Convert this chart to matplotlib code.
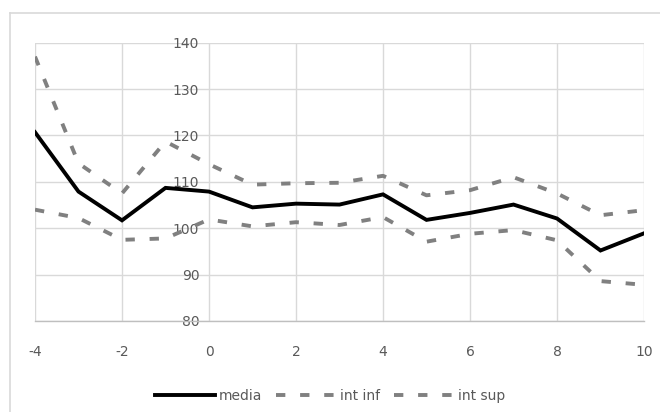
import matplotlib
matplotlib.use('Agg')
import matplotlib.pyplot as plt
from matplotlib.lines import Line2D

plt.rcParams['axes.unicode_minus'] = False

# data
x = [-4, -3, -2, -1, 0, 1, 2, 3, 4, 5, 6, 7, 8, 9, 10]
media = [120.7, 107.9, 101.7, 108.7, 107.9, 104.5, 105.3, 105.1, 107.3, 101.8, 103.3, 105.1, 102.1, 95.2, 98.9]
int_inf = [104.0, 102.2, 97.5, 97.8, 101.9, 100.4, 101.3, 100.7, 102.4, 97.1, 98.8, 99.6, 97.4, 88.6, 87.8]
int_sup = [137.0, 114.0, 107.5, 118.7, 113.8, 109.4, 109.7, 109.8, 111.3, 107.1, 108.2, 111.0, 107.5, 102.8, 103.9]

x_ticks = [-4, -2, 0, 2, 4, 6, 8, 10]
y_ticks = [80, 90, 100, 110, 120, 130, 140]

text_col = '#595959'
grid_col = '#d9d9d9'
dash_col = '#808080'

fig = plt.figure(figsize=(6.6, 4.12), dpi=100)
ax = fig.add_axes([35 / 660, 1 - 321 / 412, 609 / 660, 278.3 / 412])

ax.plot(x, media, color='black', lw=2.8, solid_joinstyle='miter', zorder=4, label='media')
ax.plot(x, int_inf, color=dash_col, lw=2.8, dashes=(2.4, 3.8), dash_capstyle='butt', zorder=3, label='int inf')
ax.plot(x, int_sup, color=dash_col, lw=2.8, dashes=(2.4, 3.8), dash_capstyle='butt', zorder=3, label='int sup')

ax.set_xlim(-4, 10)
ax.set_ylim(80, 140)
ax.set_xticks(x_ticks)
ax.set_yticks(y_ticks)
ax.grid(True, color=grid_col, lw=1)
ax.set_axisbelow(True)

for s in ['top', 'right']:
    ax.spines[s].set_visible(False)
ax.spines['left'].set_position(('data', 0))
ax.spines['left'].set_visible(False)
ax.spines['bottom'].set_color('#bfbfbf')
ax.spines['bottom'].set_linewidth(1)

ax.tick_params(axis='y', length=0, pad=7, labelcolor=text_col, labelsize=10)
ax.tick_params(axis='x', length=0, pad=17, labelcolor=text_col, labelsize=10)

# chart area border (only top and left visible)
fig.add_artist(Line2D([9.5 / 660, 1], [1 - 12.5 / 412, 1 - 12.5 / 412], color=grid_col, lw=1.2))
fig.add_artist(Line2D([9.5 / 660, 9.5 / 660], [0, 1 - 12.5 / 412], color=grid_col, lw=1.2))

leg = fig.legend(loc='center', bbox_to_anchor=(0.5, 1 - 396 / 412), ncol=3, frameon=False,
                 handlelength=4.3, handletextpad=0.3, columnspacing=1.0, fontsize=10)
for t in leg.get_texts():
    t.set_color(text_col)

fig.savefig('out.png', dpi=100)
